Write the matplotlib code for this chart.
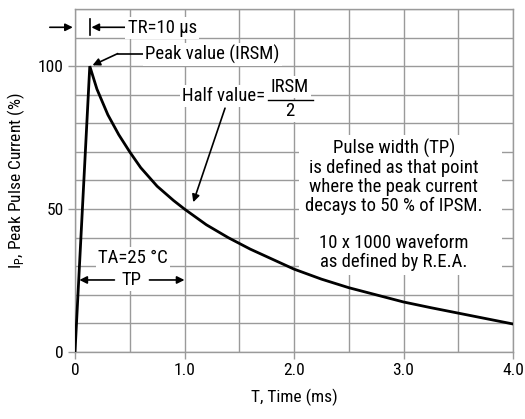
import matplotlib
matplotlib.use('Agg')
import matplotlib.pyplot as plt
from matplotlib import font_manager as fm
from matplotlib.patches import Rectangle

# pulse waveform (ms, % of peak)
t_ms = [0, 0.135, 0.2, 0.3, 0.4, 0.5, 0.6, 0.75, 0.9, 1.0, 1.2, 1.4, 1.6,
        1.8, 2.0, 2.25, 2.5, 2.75, 3.0, 3.25, 3.5, 3.75, 4.0]
ip_pct = [0, 100, 92, 83, 76, 70, 64.5, 58, 53, 50, 44.5, 40, 36,
          32.5, 29, 25.5, 22.5, 20, 17.5, 15.5, 13.6, 11.7, 9.8]

x_ticks = [0, 1, 2, 3, 4]
x_labels = ['0', '1.0', '2.0', '3.0', '4.0']
y_ticks = [0, 50, 100]

# pick a narrow sans if there is one
fonts = fm.fontManager.ttflist
names = {f.name for f in fonts}
fam, fs, fst = 'DejaVu Sans', 10.5, 11
for cand in ['Liberation Sans Narrow', 'Roboto Condensed', 'Arial Narrow']:
    if cand in names:
        fam, fs, fst = cand, 12.5, 13.5
        break
plt.rcParams['font.family'] = [fam, 'DejaVu Sans']
plt.rcParams['mathtext.fontset'] = 'custom'
plt.rcParams['mathtext.rm'] = fam

GRID = '#9a9a9a'
wbox = dict(facecolor='white', edgecolor='none', pad=1.5)
arr = dict(arrowstyle='-|>', color='black', lw=1.2, mutation_scale=11,
           shrinkA=0, shrinkB=0)

fig = plt.figure(figsize=(5.25, 4.19), dpi=100)
ax = fig.add_axes([75 / 525, 1 - 352 / 419, 438 / 525, 343 / 419])

ax.set_xlim(0, 4)
ax.set_ylim(0, 120)
ax.set_xticks([i * 0.5 for i in range(9)], minor=True)
ax.set_yticks(range(0, 121, 10), minor=True)
ax.set_xticks(x_ticks)
ax.set_xticklabels(x_labels)
ax.set_yticks(y_ticks)
ax.grid(True, which='both', color=GRID, lw=1)
ax.set_axisbelow(True)
ax.tick_params(which='minor', length=0)
ax.tick_params(which='major', length=5, color=GRID, width=1, labelsize=fs,
               pad=3)
for s in ax.spines.values():
    s.set_color(GRID)
    s.set_linewidth(1)

ax.plot(t_ms, ip_pct, color='black', lw=2, solid_joinstyle='miter', zorder=3)

# white panel behind the description
ax.add_patch(Rectangle((2.05, 27), 1.85, 49, facecolor='white',
                       edgecolor='none', zorder=1))
ax.text(2.91, 61.3, 'Pulse width (TP)\nis defined as that point\n'
        'where the peak current\ndecays to 50 % of IPSM.',
        ha='center', va='center', fontsize=fst, linespacing=1.08, zorder=4)
ax.text(2.91, 34.8, '10 x 1000 waveform\nas defined by R.E.A.',
        ha='center', va='center', fontsize=fst, linespacing=1.08, zorder=4)

# TR marker
ax.annotate('', xy=(-0.02, 113.6), xytext=(-0.23, 113.6), arrowprops=arr,
            annotation_clip=False)
ax.plot([0.14, 0.14], [111, 116.5], color='black', lw=1.2, zorder=4)
ax.annotate('', xy=(0.15, 113.6), xytext=(0.46, 113.6), arrowprops=arr)
ax.text(0.48, 113.5, 'TR=10 µs', ha='left', va='center', fontsize=fst,
        bbox=wbox, zorder=4)

# peak value
ax.plot([0.39, 0.62], [104.4, 104.4], color='black', lw=1.2, zorder=4)
ax.annotate('', xy=(0.16, 100.3), xytext=(0.39, 104.4), arrowprops=arr)
ax.text(0.64, 104, 'Peak value (IRSM)', ha='left', va='center',
        fontsize=fst, bbox=wbox, zorder=4)

# half value
ax.text(1.74, 89.6, 'Half value=', ha='right', va='center', fontsize=fst,
        bbox=wbox, zorder=4)
ax.text(1.96, 92.8, 'IRSM', ha='center', va='center', fontsize=fst,
        bbox=wbox, zorder=4)
ax.text(1.96, 84.2, '2', ha='center', va='center', fontsize=fst,
        bbox=wbox, zorder=4)
ax.plot([1.76, 2.17], [88.2, 88.2], color='black', lw=1, zorder=5)
ax.annotate('', xy=(1.08, 52.4), xytext=(1.37, 85.3), arrowprops=arr)

# TA / TP
ax.text(0.53, 32.9, 'TA=25 °C', ha='center', va='center', fontsize=fst,
        bbox=wbox, zorder=4)
ax.annotate('', xy=(0.04, 25.2), xytext=(0.36, 25.2), arrowprops=arr)
ax.annotate('', xy=(1.0, 25.2), xytext=(0.68, 25.2), arrowprops=arr)
ax.text(0.52, 25.2, 'TP', ha='center', va='center', fontsize=fst,
        bbox=wbox, zorder=4)

ax.set_xlabel('T, Time (ms)', fontsize=fs, labelpad=8)
ax.set_ylabel(r'I$_\mathregular{P}$, Peak Pulse Current (%)', fontsize=fs,
              labelpad=8)

fig.savefig('out.png', dpi=100)
